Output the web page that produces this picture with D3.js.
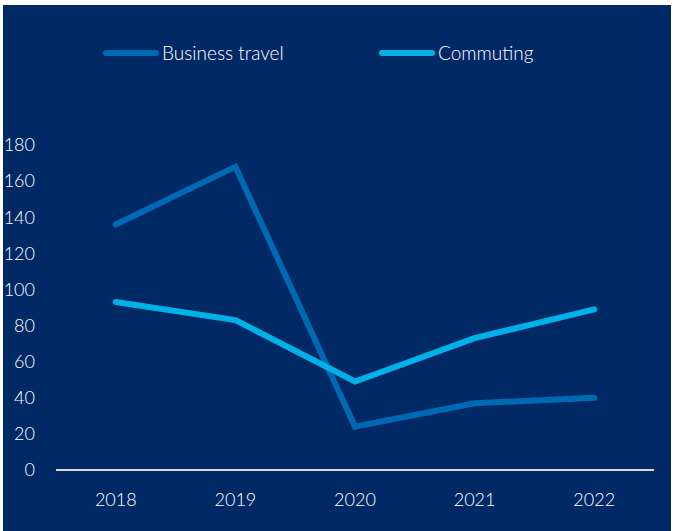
<!DOCTYPE html>
<html>
<head>
<meta charset="utf-8">
<script src="https://cdn.jsdelivr.net/npm/d3@7"></script>
<style>
  body { margin: 0; background: #fff; }
  svg { display: block; }
</style>
</head>
<body>
<svg id="chart" width="677" height="531"></svg>
<script>
// data
var years = ["2018", "2019", "2020", "2021", "2022"];
var businessTravel = [136, 168, 24, 37, 40];
var commuting = [93, 83, 49, 73, 89];
var yTicks = [0, 20, 40, 60, 80, 100, 120, 140, 160, 180];

var svg = d3.select("#chart");
var fontFam = "Lato, 'Open Sans', sans-serif";

// navy panel
svg.append("rect")
  .attr("x", 3).attr("y", 5)
  .attr("width", 668).attr("height", 526)
  .attr("fill", "#012965");

var x = d3.scaleBand().domain(years).range([56, 654]);
var y = d3.scaleLinear().domain([0, 180]).range([470, 145]);

// y labels (no axis line)
svg.selectAll(".ylab")
  .data(yTicks)
  .enter().append("text")
    .attr("class", "ylab")
    .attr("x", 35)
    .attr("y", d => y(d))
    .attr("dy", "0.35em")
    .attr("text-anchor", "end")
    .attr("fill", "#fff")
    .style("font-family", fontFam)
    .style("font-weight", 300)
    .style("font-size", "18px")
    .text(d => d);

// baseline
svg.append("line")
  .attr("x1", 56).attr("x2", 654)
  .attr("y1", y(0)).attr("y2", y(0))
  .attr("stroke", "#d9d9d9")
  .attr("stroke-width", 2);

// x labels
svg.selectAll(".xlab")
  .data(years)
  .enter().append("text")
    .attr("class", "xlab")
    .attr("x", d => x(d) + x.bandwidth() / 2)
    .attr("y", 506)
    .attr("text-anchor", "middle")
    .attr("fill", "#fff")
    .style("font-family", fontFam)
    .style("font-weight", 300)
    .style("font-size", "18px")
    .text(d => d);

var line = d3.line()
  .x((d, i) => x(years[i]) + x.bandwidth() / 2)
  .y(d => y(d));

var series = [
  {name: "Business travel", values: businessTravel, color: "#0069b4"},
  {name: "Commuting", values: commuting, color: "#00b1e7"}
];

series.forEach(function (s) {
  svg.append("path")
    .datum(s.values)
    .attr("fill", "none")
    .attr("stroke", s.color)
    .attr("stroke-width", 6)
    .attr("stroke-linecap", "round")
    .attr("stroke-linejoin", "miter")
    .attr("d", line);
});

// legend
var legX = [106, 382];
series.forEach(function (s, i) {
  svg.append("line")
    .attr("x1", legX[i]).attr("x2", legX[i] + 50)
    .attr("y1", 53).attr("y2", 53)
    .attr("stroke", s.color)
    .attr("stroke-width", 6)
    .attr("stroke-linecap", "round");
  svg.append("text")
    .attr("x", legX[i] + 56)
    .attr("y", 53)
    .attr("dy", "0.35em")
    .attr("fill", "#fff")
    .style("font-family", fontFam)
    .style("font-weight", 300)
    .style("font-size", "19px")
    .text(s.name);
});
</script>
</body>
</html>
